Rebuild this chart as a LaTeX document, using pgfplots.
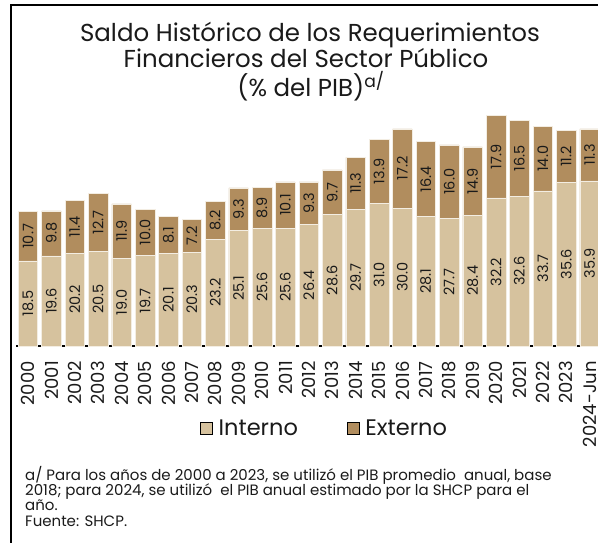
\documentclass[border=0pt]{standalone}
\usepackage{fontspec}
\setmainfont{Poppins}
\usepackage{pgfplots}
\pgfplotsset{compat=1.18}
\usepackage{pgfplotstable}
\definecolor{interno}{HTML}{D6C29E}
\definecolor{externo}{HTML}{B18D5E}
\definecolor{txt}{HTML}{1A1A1A}

\pgfplotstableread{
x int ext
0 18.5 10.7
1 19.6 9.8
2 20.2 11.4
3 20.5 12.7
4 19.0 11.9
5 19.7 10.0
6 20.1 8.1
7 20.3 7.2
8 23.2 8.2
9 25.1 9.3
10 25.6 8.9
11 25.6 10.1
12 26.4 9.3
13 28.6 9.7
14 29.7 11.3
15 31.0 13.9
16 30.0 17.2
17 28.1 16.4
18 27.7 16.0
19 28.4 14.9
20 32.2 17.9
21 32.6 16.5
22 33.7 14.0
23 35.6 11.2
24 35.9 11.3
}\datatable

\begin{document}
\begin{tikzpicture}
\useasboundingbox (0pt,0pt) rectangle (598pt,542pt);
\draw[line width=2pt, black] (11pt,-5pt) -- (11pt,537pt) -- (605pt,537pt);
% title
\node[anchor=base, font=\fontsize{24.5}{28}\selectfont, text=txt] at (310pt,500pt) {Saldo Histórico de los Requerimientos};
\node[anchor=base, font=\fontsize{24.5}{28}\selectfont, text=txt] at (306pt,474pt) {Financieros del Sector Público};
\node[anchor=base, font=\fontsize{24.5}{28}\selectfont, text=txt] at (311pt,445pt) {(\% del PIB)\textsuperscript{a/}};
% footnote
\node[anchor=base west, inner sep=0pt, font=\fontsize{15}{16}\selectfont, text=txt] at (25pt,62pt) {a/ Para los años de 2000 a 2023, se utilizó el PIB promedio\ \ anual, base};
\node[anchor=base west, inner sep=0pt, font=\fontsize{15}{16}\selectfont, text=txt] at (25pt,46.5pt) {2018; para 2024, se utilizó\ \ el PIB anual estimado por la SHCP para el};
\node[anchor=base west, inner sep=0pt, font=\fontsize{15}{16}\selectfont, text=txt] at (25pt,31.5pt) {año.};
\node[anchor=base west, inner sep=0pt, font=\fontsize{15}{16}\selectfont, text=txt] at (25pt,16pt) {Fuente: SHCP.};

\begin{axis}[
  at={(16.3pt,196pt)}, anchor=south west,
  scale only axis, width=585pt, height=239.2pt,
  xmin=-0.5, xmax=24.5, ymin=0, ymax=52,
  axis x line*=bottom, axis y line=none,
  x axis line style={line width=2pt, -, black},
  xtick={0,...,24},
  xticklabels={2000,2001,2002,2003,2004,2005,2006,2007,2008,2009,2010,2011,2012,2013,2014,2015,2016,2017,2018,2019,2020,2021,2022,2023,2024-Jun},
  major tick length=0pt,
  xticklabel style={rotate=90, anchor=east, inner sep=0pt, font=\fontsize{18}{20}\selectfont, text=txt},
  xticklabel shift=15pt,
  legend style={at={(axis description cs:0.309,-0.343)}, anchor=west, draw=none, fill=none,
    font=\fontsize{22.5}{25}\selectfont, text=txt, legend columns=2,
    /tikz/every even column/.append style={column sep=47pt}},
  legend image code/.code={\fill[#1] (0pt,-6pt) rectangle (12pt,6pt); \path (16pt,0pt);},
  clip=false,
]
\addlegendimage{fill=interno}
\addlegendentry{Interno}
\addlegendimage{fill=externo}
\addlegendentry{Externo}

\addplot[ybar, bar width=19.5pt, bar shift=0pt, fill=externo, draw=white!70!interno, line width=0.5pt, forget plot]
  table[x=x, y expr=\thisrow{int}+\thisrow{ext}] {\datatable};
\addplot[ybar, bar width=19.5pt, bar shift=0pt, fill=interno, draw=white!70!interno, line width=0.5pt, forget plot]
  table[x=x, y=int] {\datatable};

\addplot[draw=none, mark=none, forget plot, point meta=explicit,
  nodes near coords={\pgfmathprintnumber[fixed,fixed zerofill,precision=1,assume math mode=true]{\pgfplotspointmeta}},
  every node near coord/.style={rotate=90, anchor=center, inner sep=0pt, font=\fontsize{14.5}{16}\selectfont, text=txt}]
  table[x=x, y expr=\thisrow{int}/2, meta=int] {\datatable};
\addplot[draw=none, mark=none, forget plot, point meta=explicit,
  nodes near coords={\pgfmathprintnumber[fixed,fixed zerofill,precision=1,assume math mode=true]{\pgfplotspointmeta}},
  every node near coord/.style={rotate=90, anchor=center, inner sep=0pt, font=\fontsize{14.5}{16}\selectfont, text=txt}]
  table[x=x, y expr=\thisrow{int}+\thisrow{ext}/2, meta=ext] {\datatable};
\end{axis}
\end{tikzpicture}
\end{document}
